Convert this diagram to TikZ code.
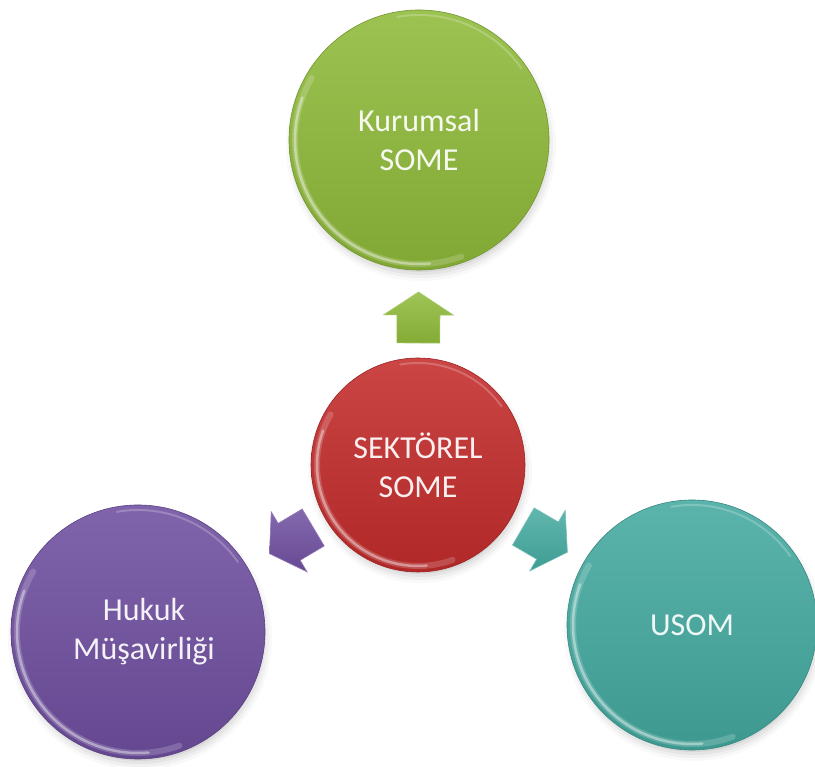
\documentclass[tikz,border=0pt]{standalone}
\usepackage{fontspec}
\setmainfont{Carlito}
\usetikzlibrary{calc}
\definecolor{cgreen}{RGB}{143,186,58}
\definecolor{cred}{RGB}{196,44,44}
\definecolor{cpurple}{RGB}{111,79,160}
\definecolor{cteal}{RGB}{68,170,160}
\tikzset{
  bubble/.style={circle, inner sep=0pt, top color=#1!88!white, bottom color=#1!90!black,
    draw=#1!80!black, line width=0.6pt, text=white!92!#1,
    font=\fontsize{32}{39}\selectfont, align=center},
  blockarrow/.style={top color=#1!85!white, bottom color=#1!92!black, draw=#1!75!white, line width=0.6pt},
  rim/.style={white, line cap=round},
}
% \bub{name}{x}{y}{radius}{colour}{text}
\newcommand\bub[6]{%
  \foreach \k/\o in {9/0.025,6/0.035,3/0.045,0/0.06}{%
    \fill[black,opacity=\o] (#2+2,#3-6) circle[radius=#4+\k-4];}
  \node[bubble=#5, minimum size=2*#4pt] (#1) at (#2,#3) {#6};
  \draw[rim,opacity=0.18,line width=6pt] (#1.center) ++(150:#4-6) arc[start angle=150,end angle=290,radius=#4-6];
  \draw[rim,opacity=0.40,line width=2.5pt] (#1.center) ++(160:#4-6) arc[start angle=160,end angle=275,radius=#4-6];
  \draw[rim,opacity=0.22,line width=2pt] (#1.center) ++(35:#4-5) arc[start angle=35,end angle=100,radius=#4-5];
}
% \blk{from}{to}{colour}
\newcommand\blk[3]{%
  \path[blockarrow=#3]
    ($(#1.center)!122pt!(#2.center)!21.5pt!90:(#2.center)$) --
    ($(#1.center)!150pt!(#2.center)!21.5pt!90:(#2.center)$) --
    ($(#1.center)!150pt!(#2.center)!35pt!90:(#2.center)$) --
    ($(#1.center)!173pt!(#2.center)$) --
    ($(#1.center)!150pt!(#2.center)!35pt!-90:(#2.center)$) --
    ($(#1.center)!150pt!(#2.center)!21.5pt!-90:(#2.center)$) --
    ($(#1.center)!122pt!(#2.center)!21.5pt!-90:(#2.center)$) -- cycle;
}
\begin{document}
\begin{tikzpicture}[x=1pt,y=1pt]
  \useasboundingbox (0,0) rectangle (815,767);
  \fill[white] (0,0) rectangle (815,767);
  \bub{top}{419}{627}{130}{cgreen}{Kurumsal\\SOME}
  \bub{left}{138}{135}{127}{cpurple}{\hspace*{12pt}Hukuk\\\hspace*{12pt}Müşavirliği}
  \bub{right}{692}{142}{125}{cteal}{USOM}
  \bub{ctr}{418}{302}{107}{cred}{SEKTÖREL\\SOME}
  \blk{ctr}{top}{cgreen}
  \blk{ctr}{left}{cpurple}
  \blk{ctr}{right}{cteal}
\end{tikzpicture}
\end{document}
